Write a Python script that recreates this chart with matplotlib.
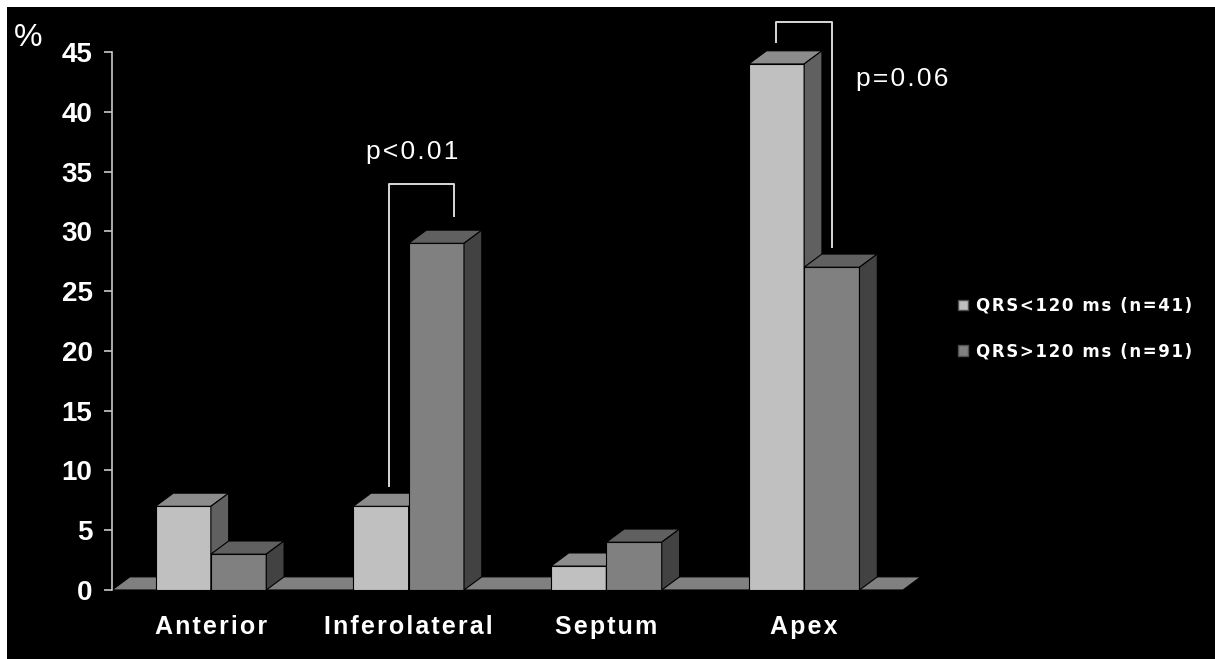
import matplotlib
matplotlib.use("Agg")
import matplotlib.pyplot as plt
from matplotlib.patches import Polygon, Patch, Rectangle

regions = ["Anterior", "Inferolateral", "Septum", "Apex"]
qrs_narrow = [7, 7, 2, 44]   # QRS<120 ms (n=41)
qrs_wide = [3, 29, 4, 27]    # QRS>120 ms (n=91)
series_labels = ["QRS<120 ms (n=41)", "QRS>120 ms (n=91)"]
y_ticks = [0, 5, 10, 15, 20, 25, 30, 35, 40, 45]

FONTS = ["Liberation Sans", "DejaVu Sans"]


def spaced(s, sp="\u200a"):
    # loosen the tracking a little with hair spaces
    return sp.join(s)


W, H = 1215, 659
fig = plt.figure(figsize=(W / 100, H / 100), dpi=100, facecolor="white")
fig.patches.append(Rectangle((7 / W, 0), 1, (H - 7) / H, transform=fig.transFigure,
                             facecolor="black", edgecolor="none", zorder=0))

ax = fig.add_axes([112 / W, (H - 590) / H, 791 / W, 538 / H])
ax.set_zorder(2)
ax.set_facecolor("black")
ax.set_xlim(-0.5, 3.5)
ax.set_ylim(0, 45)

# fake 3D depth, in data units
DX, DY = 0.09, 1.1
bw = 0.28


def box(x0, h, front, top, side, z):
    x1 = x0 + bw
    ax.bar(x0, h, width=bw, align="edge", color=front, edgecolor="black",
           linewidth=0.8, zorder=z, clip_on=False)
    ax.add_patch(Polygon([(x0, h), (x0 + DX, h + DY), (x1 + DX, h + DY), (x1, h)],
                         closed=True, facecolor=top, edgecolor="black",
                         linewidth=0.8, zorder=z, clip_on=False))
    ax.add_patch(Polygon([(x1, 0), (x1, h), (x1 + DX, h + DY), (x1 + DX, DY)],
                         closed=True, facecolor=side, edgecolor="black",
                         linewidth=0.8, zorder=z, clip_on=False))


# floor
ax.add_patch(Polygon([(-0.5, 0), (-0.5 + DX, DY), (3.5 + DX, DY), (3.5, 0)],
                     closed=True, facecolor="#808080", edgecolor="black",
                     linewidth=0.8, zorder=1, clip_on=False))

for i in range(len(regions)):
    box(i - bw, qrs_narrow[i], "#c0c0c0", "#8c8c8c", "#606060", 2 + 2 * i)
    box(i, qrs_wide[i], "#808080", "#606060", "#424242", 3 + 2 * i)

# significance brackets
br_col = "#d8d8d8"
ax.plot([0.90, 0.90, 1.23, 1.23], [qrs_narrow[1] + 1.7, 33.95, 33.95, qrs_wide[1] + 2.3],
        color=br_col, lw=1.4, zorder=20, clip_on=False)
ax.text(1.02, 36.6, spaced("p<0.01"), color="white", fontsize=19, family=FONTS,
        ha="center", va="center")
ax.plot([2.86, 2.86, 3.14, 3.14], [qrs_narrow[3] + 1.8, 47.5, 47.5, qrs_wide[3] + 1.7],
        color=br_col, lw=1.4, zorder=20, clip_on=False)
ax.text(3.26, 42.7, spaced("p=0.06"), color="white", fontsize=19, family=FONTS,
        ha="left", va="center")

# axes styling
for s in ["top", "right", "bottom"]:
    ax.spines[s].set_visible(False)
ax.spines["left"].set_color("#c8c8c8")
ax.spines["left"].set_linewidth(1.2)
ax.set_yticks(y_ticks)
ax.tick_params(axis="y", colors="#c8c8c8", length=6, width=1.2, pad=8,
               labelcolor="white", labelsize=20)
for lab in ax.get_yticklabels():
    lab.set_fontfamily("Liberation Sans")
    lab.set_fontweight("bold")
ax.set_xticks(range(len(regions)))
ax.set_xticklabels([spaced(r) for r in regions], color="white", fontsize=18,
                   fontweight="bold", family=FONTS)
ax.tick_params(axis="x", length=0, pad=18)

fig.text(14 / W, 1 - 38 / H, "%", color="white", fontsize=23,
         family="Liberation Sans", va="center", ha="left")

handles = [Patch(facecolor="#c0c0c0", edgecolor="#505050", label=spaced(series_labels[0])),
           Patch(facecolor="#808080", edgecolor="#505050", label=spaced(series_labels[1]))]
leg = fig.legend(handles=handles, loc="upper left", bbox_to_anchor=(943 / W, 1 - 282 / H),
                 frameon=False, handlelength=0.6, handleheight=0.6,
                 handletextpad=0.5, labelspacing=1.65,
                 prop={"family": "DejaVu Sans", "weight": "bold", "size": 12})
leg.set_zorder(3)
for t in leg.get_texts():
    t.set_color("white")

fig.savefig("out.png", dpi=100, facecolor=fig.get_facecolor())
